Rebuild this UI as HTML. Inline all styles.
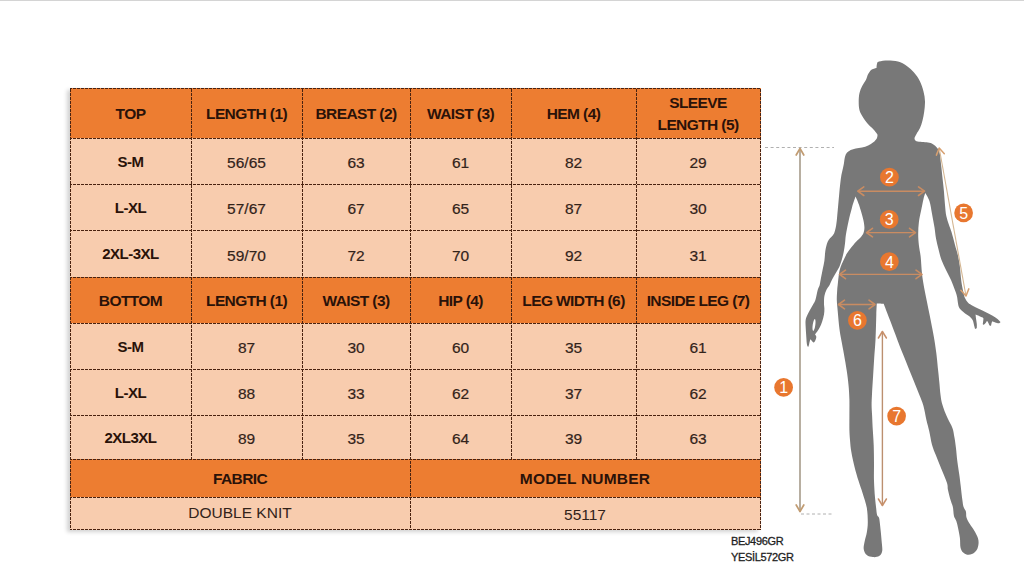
<!DOCTYPE html>
<html><head><meta charset="utf-8"><title>Size Chart</title><style>
*{margin:0;padding:0;box-sizing:border-box}
html,body{width:1024px;height:584px;overflow:hidden;background:#fff}
body{position:relative;font-family:"Liberation Sans",Arial,sans-serif}
.topline{position:absolute;left:0;top:0;width:1024px;height:1px;background:#d4d4d4}
.shadow{position:absolute;left:70px;top:88px;width:691px;height:442px;box-shadow:-3px 2px 4px rgba(0,0,0,0.18)}
.c{position:absolute;display:flex;align-items:center;justify-content:center;text-align:center}
.c span{display:block}
.h{font-weight:bold;font-size:15.5px;letter-spacing:-0.6px;color:#2a1209;line-height:22px;padding-top:2px}
.s{font-weight:bold;font-size:15px;letter-spacing:-0.5px;color:#2a1209}
.n{font-size:15.5px;color:#33231a;padding-top:4px;-webkit-text-stroke:0.2px #33231a}
.f{font-size:15.5px;color:#33231a}
.f2{font-size:15.5px;color:#33231a;padding-top:3px}
.wide{letter-spacing:0.2px}
svg{position:absolute;left:0;top:0}
.codes{position:absolute;left:731px;top:533px;font-size:11px;line-height:16px;color:#1e1e1e;letter-spacing:-0.35px;-webkit-text-stroke:0.3px #1e1e1e}
</style></head>
<body>
<div class="topline"></div>
<div class="shadow"></div>
<div class="c h" style="left:70px;top:88px;width:121px;height:50px;background:#ED7D31"><span>TOP</span></div><div class="c h" style="left:191px;top:88px;width:111px;height:50px;background:#ED7D31"><span>LENGTH (1)</span></div><div class="c h" style="left:302px;top:88px;width:108px;height:50px;background:#ED7D31"><span>BREAST (2)</span></div><div class="c h" style="left:410px;top:88px;width:101px;height:50px;background:#ED7D31"><span>WAIST (3)</span></div><div class="c h" style="left:511px;top:88px;width:125px;height:50px;background:#ED7D31"><span>HEM (4)</span></div><div class="c h" style="left:636px;top:88px;width:124px;height:50px;background:#ED7D31"><span>SLEEVE<br>LENGTH (5)</span></div><div class="c s" style="left:70px;top:138px;width:121px;height:46px;background:#F8CCAE"><span>S-M</span></div><div class="c n" style="left:191px;top:138px;width:111px;height:46px;background:#F8CCAE"><span>56/65</span></div><div class="c n" style="left:302px;top:138px;width:108px;height:46px;background:#F8CCAE"><span>63</span></div><div class="c n" style="left:410px;top:138px;width:101px;height:46px;background:#F8CCAE"><span>61</span></div><div class="c n" style="left:511px;top:138px;width:125px;height:46px;background:#F8CCAE"><span>82</span></div><div class="c n" style="left:636px;top:138px;width:124px;height:46px;background:#F8CCAE"><span>29</span></div><div class="c s" style="left:70px;top:184px;width:121px;height:46px;background:#F8CCAE"><span>L-XL</span></div><div class="c n" style="left:191px;top:184px;width:111px;height:46px;background:#F8CCAE"><span>57/67</span></div><div class="c n" style="left:302px;top:184px;width:108px;height:46px;background:#F8CCAE"><span>67</span></div><div class="c n" style="left:410px;top:184px;width:101px;height:46px;background:#F8CCAE"><span>65</span></div><div class="c n" style="left:511px;top:184px;width:125px;height:46px;background:#F8CCAE"><span>87</span></div><div class="c n" style="left:636px;top:184px;width:124px;height:46px;background:#F8CCAE"><span>30</span></div><div class="c s" style="left:70px;top:230px;width:121px;height:47px;background:#F8CCAE"><span>2XL-3XL</span></div><div class="c n" style="left:191px;top:230px;width:111px;height:47px;background:#F8CCAE"><span>59/70</span></div><div class="c n" style="left:302px;top:230px;width:108px;height:47px;background:#F8CCAE"><span>72</span></div><div class="c n" style="left:410px;top:230px;width:101px;height:47px;background:#F8CCAE"><span>70</span></div><div class="c n" style="left:511px;top:230px;width:125px;height:47px;background:#F8CCAE"><span>92</span></div><div class="c n" style="left:636px;top:230px;width:124px;height:47px;background:#F8CCAE"><span>31</span></div><div class="c h" style="left:70px;top:277px;width:121px;height:46px;background:#ED7D31"><span>BOTTOM</span></div><div class="c h" style="left:191px;top:277px;width:111px;height:46px;background:#ED7D31"><span>LENGTH (1)</span></div><div class="c h" style="left:302px;top:277px;width:108px;height:46px;background:#ED7D31"><span>WAIST (3)</span></div><div class="c h" style="left:410px;top:277px;width:101px;height:46px;background:#ED7D31"><span>HIP (4)</span></div><div class="c h" style="left:511px;top:277px;width:125px;height:46px;background:#ED7D31"><span>LEG WIDTH (6)</span></div><div class="c h" style="left:636px;top:277px;width:124px;height:46px;background:#ED7D31"><span>INSIDE LEG (7)</span></div><div class="c s" style="left:70px;top:323px;width:121px;height:46px;background:#F8CCAE"><span>S-M</span></div><div class="c n" style="left:191px;top:323px;width:111px;height:46px;background:#F8CCAE"><span>87</span></div><div class="c n" style="left:302px;top:323px;width:108px;height:46px;background:#F8CCAE"><span>30</span></div><div class="c n" style="left:410px;top:323px;width:101px;height:46px;background:#F8CCAE"><span>60</span></div><div class="c n" style="left:511px;top:323px;width:125px;height:46px;background:#F8CCAE"><span>35</span></div><div class="c n" style="left:636px;top:323px;width:124px;height:46px;background:#F8CCAE"><span>61</span></div><div class="c s" style="left:70px;top:369px;width:121px;height:46px;background:#F8CCAE"><span>L-XL</span></div><div class="c n" style="left:191px;top:369px;width:111px;height:46px;background:#F8CCAE"><span>88</span></div><div class="c n" style="left:302px;top:369px;width:108px;height:46px;background:#F8CCAE"><span>33</span></div><div class="c n" style="left:410px;top:369px;width:101px;height:46px;background:#F8CCAE"><span>62</span></div><div class="c n" style="left:511px;top:369px;width:125px;height:46px;background:#F8CCAE"><span>37</span></div><div class="c n" style="left:636px;top:369px;width:124px;height:46px;background:#F8CCAE"><span>62</span></div><div class="c s" style="left:70px;top:415px;width:121px;height:44px;background:#F8CCAE"><span>2XL3XL</span></div><div class="c n" style="left:191px;top:415px;width:111px;height:44px;background:#F8CCAE"><span>89</span></div><div class="c n" style="left:302px;top:415px;width:108px;height:44px;background:#F8CCAE"><span>35</span></div><div class="c n" style="left:410px;top:415px;width:101px;height:44px;background:#F8CCAE"><span>64</span></div><div class="c n" style="left:511px;top:415px;width:125px;height:44px;background:#F8CCAE"><span>39</span></div><div class="c n" style="left:636px;top:415px;width:124px;height:44px;background:#F8CCAE"><span>63</span></div><div class="c h" style="left:70px;top:459px;width:340px;height:38px;background:#ED7D31"><span>FABRIC</span></div><div class="c h wide" style="left:410px;top:459px;width:350px;height:38px;background:#ED7D31"><span>MODEL NUMBER</span></div><div class="c f" style="left:70px;top:497px;width:340px;height:32px;background:#F8CCAE"><span>DOUBLE KNIT</span></div><div class="c f2" style="left:410px;top:497px;width:350px;height:32px;background:#F8CCAE"><span>55117</span></div><div style="position:absolute;left:760px;top:88px;width:1px;height:51px;background:#ED7D31"></div><div style="position:absolute;left:760px;top:138px;width:1px;height:47px;background:#F8CCAE"></div><div style="position:absolute;left:760px;top:184px;width:1px;height:47px;background:#F8CCAE"></div><div style="position:absolute;left:760px;top:230px;width:1px;height:48px;background:#F8CCAE"></div><div style="position:absolute;left:760px;top:277px;width:1px;height:47px;background:#ED7D31"></div><div style="position:absolute;left:760px;top:323px;width:1px;height:47px;background:#F8CCAE"></div><div style="position:absolute;left:760px;top:369px;width:1px;height:47px;background:#F8CCAE"></div><div style="position:absolute;left:760px;top:415px;width:1px;height:45px;background:#F8CCAE"></div><div style="position:absolute;left:760px;top:459px;width:1px;height:39px;background:#ED7D31"></div><div style="position:absolute;left:70px;top:529px;width:341px;height:1px;background:#F8CCAE"></div><div style="position:absolute;left:760px;top:497px;width:1px;height:33px;background:#F8CCAE"></div><div style="position:absolute;left:410px;top:529px;width:351px;height:1px;background:#F8CCAE"></div>
<svg width="1024" height="584" viewBox="0 0 1024 584">
<g stroke="#4a2210" stroke-width="1" stroke-dasharray="3 1" fill="none">
<line x1="70" y1="88.5" x2="761" y2="88.5" stroke-dashoffset="1"/><line x1="70" y1="138.5" x2="761" y2="138.5" stroke-dashoffset="1"/><line x1="70" y1="184.5" x2="761" y2="184.5" stroke-dashoffset="1"/><line x1="70" y1="230.5" x2="761" y2="230.5" stroke-dashoffset="1"/><line x1="70" y1="277.5" x2="761" y2="277.5" stroke-dashoffset="1"/><line x1="70" y1="323.5" x2="761" y2="323.5" stroke-dashoffset="1"/><line x1="70" y1="369.5" x2="761" y2="369.5" stroke-dashoffset="1"/><line x1="70" y1="415.5" x2="761" y2="415.5" stroke-dashoffset="1"/><line x1="70" y1="459.5" x2="761" y2="459.5" stroke-dashoffset="1"/><line x1="70" y1="497.5" x2="761" y2="497.5" stroke-dashoffset="1"/><line x1="70" y1="529.5" x2="761" y2="529.5" stroke-dashoffset="1"/><line x1="70.5" y1="88" x2="70.5" y2="530" stroke-dashoffset="3"/><line x1="191.5" y1="88" x2="191.5" y2="460" stroke-dashoffset="3"/><line x1="302.5" y1="88" x2="302.5" y2="460" stroke-dashoffset="3"/><line x1="410.5" y1="88" x2="410.5" y2="530" stroke-dashoffset="3"/><line x1="511.5" y1="88" x2="511.5" y2="460" stroke-dashoffset="3"/><line x1="636.5" y1="88" x2="636.5" y2="460" stroke-dashoffset="3"/><line x1="760.5" y1="88" x2="760.5" y2="530" stroke-dashoffset="3"/>
</g>
</svg>
<svg width="1024" height="584" viewBox="0 0 1024 584">
<path d="M887.8,60.5 C891.0,60.5 894.8,60.6 898.0,61.5 C901.2,62.4 904.1,64.1 906.8,65.9 C909.5,67.7 911.8,70.0 914.0,72.5 C916.2,75.0 918.3,78.0 919.9,81.2 C921.5,84.4 922.6,88.0 923.5,91.4 C924.4,94.8 924.9,98.2 925.0,101.6 C925.1,105.0 924.6,108.6 924.2,111.8 C923.8,115.0 923.2,117.8 922.5,120.5 C921.8,123.2 921.0,125.8 920.0,128.0 C919.0,130.2 917.4,132.2 916.5,134.0 C915.6,135.8 914.5,137.3 914.5,138.5 C914.5,139.7 915.2,140.7 916.5,141.3 C917.8,141.9 920.1,141.8 922.0,142.0 C923.9,142.2 926.2,142.2 928.0,142.6 C929.8,143.0 931.5,143.3 933.0,144.2 C934.5,145.1 935.9,146.3 937.0,147.8 C938.1,149.3 939.0,150.6 939.7,153.3 C940.4,156.0 940.5,159.9 941.0,164.0 C941.5,168.1 942.0,173.3 942.5,178.0 C943.0,182.7 943.6,187.5 944.0,192.0 C944.4,196.5 944.6,201.0 945.0,205.0 C945.4,209.0 945.6,212.7 946.3,216.0 C947.0,219.3 948.1,222.3 949.0,225.0 C949.9,227.7 950.5,228.7 951.5,232.0 C952.5,235.3 954.0,241.2 955.0,245.0 C956.0,248.8 957.0,251.5 957.8,255.0 C958.6,258.5 959.2,261.7 959.8,266.0 C960.4,270.3 960.7,276.4 961.3,281.0 C961.9,285.6 963.0,290.4 963.6,293.3 C964.2,296.2 964.4,296.7 965.1,298.3 C965.9,299.9 966.9,301.6 968.1,302.8 C969.4,304.1 970.9,304.8 972.6,305.8 C974.4,306.8 976.5,307.8 978.6,308.8 C980.7,309.8 983.1,310.8 985.4,311.9 C987.7,313.0 990.2,314.4 992.2,315.6 C994.2,316.8 996.1,317.9 997.5,319.0 C998.9,320.1 1000.5,322.0 1000.5,322.0 C1000.5,322.0 999.9,323.1 999.0,323.2 C998.1,323.3 996.3,322.7 995.2,322.4 C994.1,322.1 992.2,321.3 992.2,321.3 C992.2,321.3 991.6,323.1 991.4,323.9 C991.2,324.6 991.0,325.8 991.0,325.8 C991.0,325.8 990.1,326.1 989.6,325.4 C989.1,324.7 988.2,322.4 987.7,321.7 C987.2,320.9 986.9,320.9 986.9,320.9 C986.9,320.9 985.9,322.6 985.4,323.2 C984.9,323.8 983.9,324.7 983.9,324.7 C983.9,324.7 982.9,324.9 982.8,324.3 C982.7,323.7 983.1,322.0 983.2,320.9 C983.3,319.8 983.7,318.6 983.2,317.9 C982.7,317.1 981.4,317.0 980.1,316.4 C978.8,315.8 975.6,314.5 975.6,314.5 C975.6,314.5 975.8,317.0 976.0,318.6 C976.2,320.2 976.7,322.3 976.8,323.9 C976.9,325.5 976.8,328.1 976.8,328.1 C976.8,328.1 975.7,329.2 975.2,328.8 C974.8,328.4 974.5,326.8 974.1,325.4 C973.7,323.9 973.4,321.6 972.6,320.1 C971.9,318.6 970.9,317.5 969.6,316.4 C968.4,315.3 966.5,314.4 965.1,313.4 C963.7,312.4 962.3,311.3 961.3,310.3 C960.3,309.3 959.6,308.6 959.0,307.3 C958.4,306.1 958.2,304.4 957.9,302.8 C957.6,301.2 957.5,299.1 957.2,297.5 C956.9,295.9 956.4,294.2 956.0,293.0 C955.6,291.8 955.7,292.2 954.9,290.0 C954.1,287.8 952.5,283.3 951.0,280.0 C949.5,276.7 947.6,273.3 946.0,270.0 C944.4,266.7 942.8,263.4 941.5,260.0 C940.2,256.6 939.4,252.9 938.5,249.3 C937.6,245.7 936.7,242.1 936.0,238.4 C935.3,234.8 935.2,231.5 934.5,227.4 C933.8,223.3 932.8,218.1 932.0,213.7 C931.2,209.3 930.6,204.6 929.5,201.2 C928.4,197.8 925.3,193.0 925.3,193.0 C925.3,193.0 924.2,196.0 923.5,199.0 C922.8,202.0 921.8,207.2 921.0,211.0 C920.2,214.8 919.4,218.1 918.9,222.0 C918.4,225.9 918.2,230.3 918.2,234.2 C918.2,238.1 918.5,241.4 918.9,245.2 C919.3,249.0 920.2,252.2 920.7,257.0 C921.2,261.8 921.4,268.6 922.0,273.7 C922.6,278.8 923.3,282.8 924.1,287.4 C924.9,291.9 925.9,296.4 926.8,301.0 C927.7,305.6 928.7,310.2 929.6,314.8 C930.5,319.4 931.5,324.3 932.3,328.5 C933.1,332.7 933.7,335.8 934.4,340.0 C935.1,344.2 935.8,349.1 936.4,353.7 C937.0,358.3 937.3,362.8 937.8,367.4 C938.3,371.9 938.8,376.4 939.2,381.0 C939.7,385.6 940.0,391.1 940.5,394.8 C941.0,398.5 941.2,400.3 941.9,403.0 C942.6,405.7 943.6,408.5 944.6,411.2 C945.6,413.9 946.7,416.2 948.0,419.0 C949.3,421.8 951.4,425.1 952.5,428.2 C953.6,431.3 953.9,434.6 954.5,437.8 C955.1,441.0 955.4,443.5 955.9,447.4 C956.4,451.3 956.7,456.4 957.3,461.0 C957.9,465.6 958.7,470.7 959.3,474.8 C959.9,478.9 960.2,481.7 960.7,485.8 C961.2,489.9 961.8,496.1 962.3,499.6 C962.8,503.1 962.9,504.8 963.5,506.8 C964.1,508.8 965.4,509.8 965.9,511.6 C966.4,513.4 965.9,515.5 966.5,517.5 C967.1,519.5 968.2,521.3 969.5,523.5 C970.8,525.7 972.9,528.3 974.3,530.7 C975.7,533.1 977.2,535.7 977.9,537.9 C978.6,540.1 978.7,541.9 978.5,543.9 C978.3,545.9 977.8,548.2 976.7,549.9 C975.6,551.6 973.5,553.3 971.9,554.1 C970.3,554.9 968.6,555.0 967.1,554.7 C965.6,554.4 964.0,553.5 962.9,552.3 C961.8,551.1 961.0,549.9 960.5,547.5 C960.0,545.1 960.3,541.1 959.9,537.9 C959.5,534.7 958.7,531.1 958.1,528.3 C957.5,525.5 957.0,523.1 956.3,521.1 C955.6,519.1 954.5,517.9 954.0,516.3 C953.5,514.7 953.6,513.2 953.4,511.6 C953.2,510.0 953.3,508.8 952.8,506.8 C952.3,504.8 951.2,502.4 950.4,499.6 C949.6,496.8 948.6,492.8 948.0,490.0 C947.4,487.2 948.1,486.4 947.0,483.0 C945.9,479.6 943.3,473.9 941.5,469.3 C939.7,464.7 937.6,459.7 936.0,455.6 C934.4,451.5 933.1,448.8 932.0,444.7 C930.9,440.6 930.1,435.1 929.2,431.0 C928.3,426.9 927.4,424.2 926.4,420.0 C925.4,415.8 924.6,410.0 923.4,405.8 C922.2,401.6 920.9,398.9 919.3,394.8 C917.7,390.7 915.6,385.6 913.8,381.0 C912.0,376.4 910.1,371.9 908.3,367.4 C906.5,362.8 904.6,358.3 902.8,353.7 C901.0,349.1 899.4,345.4 897.4,340.0 C895.4,334.6 892.8,327.6 890.5,321.6 C888.2,315.6 883.7,303.8 883.7,303.8 C883.7,303.8 876.8,303.6 876.8,303.6 C876.8,303.6 876.5,308.9 876.3,315.0 C876.1,321.1 875.9,332.8 875.5,340.0 C875.1,347.2 874.6,352.0 874.2,358.0 C873.8,364.0 873.5,370.0 873.1,376.0 C872.7,382.0 872.2,389.2 872.0,394.0 C871.8,398.8 871.6,401.4 871.6,405.0 C871.6,408.6 871.9,411.4 872.1,415.6 C872.3,419.8 872.5,425.1 872.8,430.0 C873.1,434.9 873.5,439.2 873.7,445.0 C873.9,450.8 874.0,458.7 874.0,464.7 C874.0,470.7 873.8,475.6 874.0,481.1 C874.2,486.6 874.6,493.1 875.0,497.5 C875.4,501.9 875.8,504.9 876.1,507.8 C876.5,510.7 876.6,513.3 877.1,515.0 C877.6,516.7 878.6,516.2 879.1,518.1 C879.6,520.0 879.8,522.5 880.2,526.3 C880.6,530.1 881.3,536.6 881.6,540.7 C881.9,544.8 882.6,548.4 882.2,551.0 C881.8,553.6 880.6,555.1 879.1,556.1 C877.6,557.1 875.0,557.3 873.0,557.1 C871.0,556.9 868.3,556.5 866.8,555.1 C865.2,553.7 864.0,551.3 863.7,548.9 C863.4,546.5 864.3,543.4 864.8,540.7 C865.3,538.0 866.3,535.6 866.8,532.5 C867.3,529.4 867.8,526.3 867.8,522.2 C867.8,518.1 867.6,512.6 866.8,507.8 C865.9,503.0 864.1,497.8 862.7,493.4 C861.3,488.9 860.0,485.6 858.6,481.1 C857.2,476.7 855.7,471.5 854.5,466.7 C853.3,461.9 852.1,456.8 851.4,452.3 C850.6,447.9 850.3,443.7 850.0,440.0 C849.7,436.3 849.5,434.1 849.4,430.0 C849.3,425.9 849.4,420.7 849.4,415.6 C849.4,410.5 849.5,404.5 849.4,399.4 C849.2,394.3 849.0,389.8 848.5,385.0 C848.0,380.2 847.5,375.7 846.7,370.6 C846.0,365.5 844.9,359.5 844.0,354.4 C843.1,349.3 842.1,344.3 841.3,340.0 C840.5,335.7 840.0,333.3 839.4,328.5 C838.8,323.7 838.1,315.8 837.7,311.0 C837.3,306.2 836.9,303.5 836.8,300.0 C836.7,296.5 837.1,292.5 837.2,290.0 C837.4,287.5 837.4,287.8 837.7,285.0 C838.0,282.2 838.5,276.6 839.0,273.5 C839.5,270.4 840.0,268.8 840.7,266.7 C841.4,264.6 842.3,262.8 843.3,260.7 C844.3,258.6 845.4,256.0 846.7,253.8 C848.0,251.7 849.4,249.8 851.0,247.8 C852.6,245.8 854.5,243.5 856.1,241.8 C857.7,240.1 859.3,239.0 860.5,237.5 C861.7,236.0 862.9,234.8 863.5,233.0 C864.1,231.2 864.5,229.4 864.4,227.0 C864.3,224.6 863.9,222.1 863.0,218.4 C862.1,214.7 860.2,208.4 859.0,204.7 C857.8,201.0 855.5,196.4 855.5,196.4 C855.5,196.4 853.1,203.3 852.0,207.4 C850.9,211.5 849.6,216.4 848.6,221.0 C847.6,225.6 846.5,231.0 845.9,234.8 C845.3,238.6 845.4,240.7 845.0,243.6 C844.6,246.5 844.3,249.2 843.7,252.1 C843.1,254.9 842.3,258.1 841.5,260.7 C840.7,263.3 840.0,265.4 839.0,267.5 C838.0,269.6 836.6,271.5 835.5,273.5 C834.4,275.5 833.1,277.6 832.1,279.5 C831.1,281.4 830.5,283.3 829.6,285.0 C828.7,286.7 827.4,287.9 826.5,289.7 C825.6,291.5 824.8,293.7 824.4,296.0 C824.0,298.3 824.0,301.3 824.0,303.4 C824.0,305.5 824.4,306.8 824.4,308.6 C824.4,310.5 824.4,312.4 824.0,314.5 C823.6,316.6 822.9,319.2 822.2,321.4 C821.5,323.5 820.6,325.7 819.7,327.4 C818.9,329.1 817.9,330.6 817.1,331.7 C816.3,332.8 815.0,334.2 815.0,334.2 C815.0,334.2 816.2,335.8 816.3,336.8 C816.4,337.8 815.8,339.3 815.4,340.2 C815.0,341.1 814.5,342.0 814.1,342.3 C813.7,342.6 813.4,342.4 812.8,341.9 C812.2,341.4 810.3,339.3 810.3,339.3 C810.3,339.3 809.7,341.7 809.4,342.8 C809.1,343.9 808.9,345.6 808.6,346.2 C808.3,346.8 808.0,347.0 807.7,346.6 C807.4,346.2 807.0,345.0 806.8,343.6 C806.6,342.2 806.5,340.4 806.4,338.5 C806.3,336.6 806.1,334.6 806.0,332.5 C805.9,330.4 805.7,327.7 805.6,325.7 C805.5,323.7 805.4,322.1 805.6,320.5 C805.8,318.9 806.2,317.9 806.8,316.3 C807.4,314.7 808.4,313.0 809.4,311.1 C810.4,309.2 811.8,307.0 812.8,305.1 C813.8,303.2 814.6,302.5 815.4,300.0 C816.2,297.5 817.0,292.5 817.7,290.0 C818.4,287.5 819.2,287.0 819.7,285.0 C820.2,283.0 820.5,280.4 821.0,277.8 C821.5,275.2 822.1,272.1 822.7,269.2 C823.3,266.3 824.0,263.6 824.4,260.7 C824.8,257.8 824.9,254.5 825.2,252.1 C825.5,249.7 825.8,248.3 826.2,246.5 C826.6,244.7 827.2,242.9 827.8,241.5 C828.4,240.1 829.2,239.2 830.0,238.3 C830.8,237.4 831.8,236.8 832.5,235.8 C833.2,234.8 833.9,234.0 834.5,232.2 C835.1,230.4 835.8,227.7 836.2,225.0 C836.7,222.3 836.9,219.3 837.2,216.0 C837.5,212.7 837.9,208.7 838.2,205.0 C838.5,201.3 838.9,197.5 839.2,194.0 C839.5,190.5 839.8,187.2 840.2,184.0 C840.6,180.8 840.9,177.7 841.4,175.0 C841.9,172.3 842.6,170.0 843.0,168.0 C843.4,166.0 843.7,164.8 844.0,162.9 C844.3,161.0 844.5,158.4 845.0,156.7 C845.5,155.0 846.1,153.7 847.1,152.6 C848.1,151.5 849.2,150.7 850.7,150.0 C852.2,149.3 853.9,148.9 855.8,148.5 C857.7,148.1 859.9,148.0 862.0,147.5 C864.1,147.0 866.3,146.3 868.2,145.4 C870.1,144.5 871.8,143.5 873.3,142.3 C874.8,141.1 876.2,139.5 876.9,138.2 C877.6,136.9 877.5,134.5 877.5,134.5 C877.5,134.5 875.0,131.0 873.3,129.2 C871.6,127.3 869.2,125.3 867.5,123.4 C865.8,121.5 864.4,119.8 863.1,117.6 C861.8,115.4 860.2,113.0 859.5,110.3 C858.8,107.6 858.7,104.5 858.7,101.6 C858.7,98.7 858.9,95.6 859.5,93.0 C860.1,90.4 861.1,88.2 862.2,86.0 C863.3,83.8 865.0,81.7 866.0,79.7 C867.0,77.7 867.2,75.7 868.2,74.0 C869.2,72.3 870.4,70.6 871.8,69.6 C873.2,68.6 876.5,68.0 876.5,68.0 C876.5,68.0 876.6,64.8 877.0,63.7 C877.4,62.6 877.2,62.0 879.0,61.5 C880.8,61.0 884.6,60.5 887.8,60.5Z" fill="#787878"/>
<ellipse cx="814" cy="325" rx="1.3" ry="6" fill="#fff" transform="rotate(8 814 325)"/>
<line x1="765" y1="147.5" x2="834" y2="147.5" stroke="#b0b0b0" stroke-width="1" stroke-dasharray="3 2.6"/>
<line x1="801" y1="514" x2="833" y2="514" stroke="#b0b0b0" stroke-width="1" stroke-dasharray="3 2.5"/>
<line x1="800" y1="148.5" x2="800" y2="511.5" stroke="#B0A697" stroke-width="1.8"/><path d="M803.8,155.0 L800.0,148.5 L796.2,155.0 M796.2,505.0 L800.0,511.5 L803.8,505.0" stroke="#C29C72" stroke-width="1.7" fill="none" stroke-linecap="round" stroke-linejoin="round"/>
<line x1="939.2" y1="148" x2="966" y2="296" stroke="#D4B692" stroke-width="1.1"/><path d="M944.3,153.7 L939.2,148.0 L936.4,155.1 M960.9,290.3 L966.0,296.0 L968.8,288.9" stroke="#D8A070" stroke-width="1.5" fill="none" stroke-linecap="round" stroke-linejoin="round"/>
<line x1="882.4" y1="331.5" x2="882.4" y2="505.5" stroke="#BC9070" stroke-width="1.4"/><path d="M886.4,338.0 L882.4,331.5 L878.4,338.0 M878.4,499.0 L882.4,505.5 L886.4,499.0" stroke="#C8906A" stroke-width="1.5" fill="none" stroke-linecap="round" stroke-linejoin="round"/>
<line x1="857.8" y1="191.2" x2="924.5" y2="191.2" stroke="#C98C62" stroke-width="1.4"/><path d="M863.8,186.9 L857.8,191.2 L863.8,195.5 M918.5,195.5 L924.5,191.2 L918.5,186.9" stroke="#C98C62" stroke-width="1.6" fill="none" stroke-linecap="round" stroke-linejoin="round"/>
<line x1="866.5" y1="232.6" x2="915.5" y2="232.6" stroke="#C98C62" stroke-width="1.4"/><path d="M872.5,228.3 L866.5,232.6 L872.5,236.9 M909.5,236.9 L915.5,232.6 L909.5,228.3" stroke="#C98C62" stroke-width="1.6" fill="none" stroke-linecap="round" stroke-linejoin="round"/>
<line x1="839.5" y1="274.4" x2="922" y2="274.4" stroke="#C98C62" stroke-width="1.4"/><path d="M845.5,270.1 L839.5,274.4 L845.5,278.7 M916.0,278.7 L922.0,274.4 L916.0,270.1" stroke="#C98C62" stroke-width="1.6" fill="none" stroke-linecap="round" stroke-linejoin="round"/>
<line x1="838.5" y1="304.5" x2="875" y2="304.5" stroke="#C98C62" stroke-width="1.4"/><path d="M844.5,300.2 L838.5,304.5 L844.5,308.8 M869.0,308.8 L875.0,304.5 L869.0,300.2" stroke="#C98C62" stroke-width="1.6" fill="none" stroke-linecap="round" stroke-linejoin="round"/>
<circle cx="783.6" cy="387.4" r="9.4" fill="#E8772F"/><text x="783.6" y="393.2" text-anchor="middle" font-family="Liberation Sans, Arial, sans-serif" font-size="16" fill="#fff">1</text>
<circle cx="889.4" cy="177.2" r="9.35" fill="#E8772F"/><text x="889.4" y="183.0" text-anchor="middle" font-family="Liberation Sans, Arial, sans-serif" font-size="16" fill="#fff">2</text>
<circle cx="889.2" cy="219.4" r="9.35" fill="#E8772F"/><text x="889.2" y="225.20000000000002" text-anchor="middle" font-family="Liberation Sans, Arial, sans-serif" font-size="16" fill="#fff">3</text>
<circle cx="889.4" cy="261.7" r="9.35" fill="#E8772F"/><text x="889.4" y="267.5" text-anchor="middle" font-family="Liberation Sans, Arial, sans-serif" font-size="16" fill="#fff">4</text>
<circle cx="963.6" cy="212.9" r="9.35" fill="#E8772F"/><text x="963.6" y="218.70000000000002" text-anchor="middle" font-family="Liberation Sans, Arial, sans-serif" font-size="16" fill="#fff">5</text>
<circle cx="857.4" cy="320.4" r="9.35" fill="#E8772F"/><text x="857.4" y="326.2" text-anchor="middle" font-family="Liberation Sans, Arial, sans-serif" font-size="16" fill="#fff">6</text>
<circle cx="896.6" cy="416.1" r="9.35" fill="#E8772F"/><text x="896.6" y="421.90000000000003" text-anchor="middle" font-family="Liberation Sans, Arial, sans-serif" font-size="16" fill="#fff">7</text>
</svg>
<div class="codes">BEJ496GR<br>YESİL572GR</div>
</body></html>
